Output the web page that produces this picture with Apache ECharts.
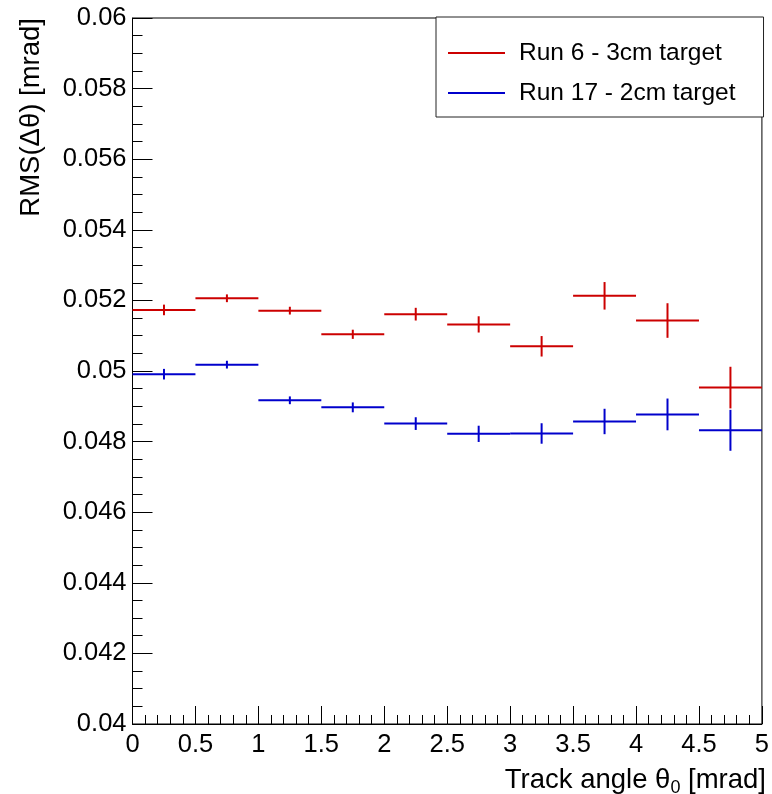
<!DOCTYPE html>
<html>
<head>
<meta charset="utf-8">
<script src="https://cdn.jsdelivr.net/npm/echarts@6/dist/echarts.min.js"></script>
<style>
html,body{margin:0;padding:0;background:#fff;}
#chart{width:772px;height:794px;}
</style>
</head>
<body>
<div id="chart"></div>
<script>
// ---- data ----
const binEdges = [0, 0.5, 1, 1.5, 2, 2.5, 3, 3.5, 4, 4.5, 5];
const seriesNames = ['Run 6 - 3cm target', 'Run 17 - 2cm target'];
const run6Values = [0.05173, 0.05206, 0.05171, 0.05104, 0.05161, 0.05132, 0.05070, 0.05213, 0.05143, 0.04953];
const run6Errors = [0.00015, 0.00011, 0.00011, 0.00013, 0.00018, 0.00023, 0.00029, 0.00039, 0.00049, 0.00059];
const run17Values = [0.04991, 0.05018, 0.04917, 0.04897, 0.04851, 0.04822, 0.04823, 0.04857, 0.04877, 0.04832];
const run17Errors = [0.00015, 0.00011, 0.00011, 0.00014, 0.00018, 0.00023, 0.00029, 0.00036, 0.00045, 0.00058];
const xTicks = [0, 0.5, 1, 1.5, 2, 2.5, 3, 3.5, 4, 4.5, 5];
const yTicks = [0.04, 0.042, 0.044, 0.046, 0.048, 0.05, 0.052, 0.054, 0.056, 0.058, 0.06];

const FONT = '"Liberation Sans", Arial, Helvetica, sans-serif';
const FS = 25.5;
const FS_LEG = 24.5;
const FS_TITLE = 27.5;

function buildData(values, errors) {
  return values.map((v, i) => [binEdges[i], binEdges[i + 1], v, errors[i]]);
}

function renderItem(params, api) {
  const lo = api.value(0), hi = api.value(1), y = api.value(2), e = api.value(3);
  const xc = (lo + hi) / 2;
  const pL = api.coord([lo, y]);
  const pR = api.coord([hi, y]);
  const pT = api.coord([xc, y + e]);
  const pB = api.coord([xc, y - e]);
  const style = { stroke: api.visual('color'), lineWidth: 2 };
  return {
    type: 'group',
    children: [
      { type: 'line', shape: { x1: pL[0], y1: pL[1], x2: pR[0], y2: pR[1] }, style: style },
      { type: 'line', shape: { x1: pT[0], y1: pT[1], x2: pB[0], y2: pB[1] }, style: style }
    ]
  };
}

const chart = echarts.init(document.getElementById('chart'), null, { renderer: 'canvas' });

const option = {
  backgroundColor: '#ffffff',
  animation: false,
  grid: {
    left: 132.5, right: 10, top: 18, bottom: 70,
    show: true, borderColor: '#000', borderWidth: 1, backgroundColor: 'transparent'
  },
  legend: {
    left: 436, top: 17,
    orient: 'vertical',
    data: seriesNames,
    icon: 'rect',
    itemWidth: 57, itemHeight: 2,
    itemGap: 10,
    padding: [21, 28, 9, 12],
    backgroundColor: '#fff',
    borderColor: '#222', borderWidth: 1,
    selectedMode: false,
    textStyle: { fontFamily: FONT, fontSize: FS_LEG, color: '#000', lineHeight: 30, padding: [0, 0, 0, 9] }
  },
  xAxis: {
    type: 'value', min: xTicks[0], max: xTicks[xTicks.length - 1], interval: 0.5,
    axisLine: { show: true, onZero: false, lineStyle: { color: '#000', width: 1 } },
    axisTick: { show: true, inside: true, length: 18, lineStyle: { color: '#000', width: 1 } },
    minorTick: { show: true, splitNumber: 5, length: 9, lineStyle: { color: '#000', width: 1 } },
    splitLine: { show: false },
    axisLabel: {
      margin: 8, fontFamily: FONT, fontSize: FS, color: '#000',
      showMinLabel: true, showMaxLabel: true,
      formatter: v => String(+v.toFixed(2))
    }
  },
  yAxis: {
    type: 'value', min: yTicks[0], max: yTicks[yTicks.length - 1], interval: 0.002,
    axisLine: { show: true, onZero: false, lineStyle: { color: '#000', width: 1 } },
    axisTick: { show: true, inside: true, length: 20, lineStyle: { color: '#000', width: 1 } },
    minorTick: { show: true, splitNumber: 4, length: 10, lineStyle: { color: '#000', width: 1 } },
    splitLine: { show: false },
    axisLabel: {
      margin: 6, fontFamily: FONT, fontSize: FS, color: '#000',
      showMinLabel: true, showMaxLabel: true,
      formatter: v => String(+v.toFixed(4))
    }
  },
  graphic: [
    {
      type: 'text', x: 31, y: 18, rotation: Math.PI / 2, z: 10,
      style: {
        text: 'RMS(Δθ) [mrad]', align: 'right', verticalAlign: 'middle',
        font: FS_TITLE + 'px ' + FONT, fill: '#000'
      }
    },
    {
      type: 'text', x: 766, y: 780, z: 10,
      style: {
        text: '{a|Track angle θ}{s|0}{a| [mrad]}', align: 'right', verticalAlign: 'middle',
        fill: '#000',
        rich: {
          a: { fontFamily: FONT, fontSize: FS_TITLE, fill: '#000' },
          s: { fontFamily: FONT, fontSize: 18, fill: '#000', padding: [16, 0, 0, 0] }
        }
      }
    }
  ],
  series: [
    {
      name: seriesNames[0], type: 'custom', renderItem: renderItem,
      itemStyle: { color: '#cc0000' },
      encode: { x: [0, 1], y: 2 },
      data: buildData(run6Values, run6Errors), clip: true
    },
    {
      name: seriesNames[1], type: 'custom', renderItem: renderItem,
      itemStyle: { color: '#0000cc' },
      encode: { x: [0, 1], y: 2 },
      data: buildData(run17Values, run17Errors), clip: true
    }
  ]
};
chart.setOption(option);
</script>
</body>
</html>
